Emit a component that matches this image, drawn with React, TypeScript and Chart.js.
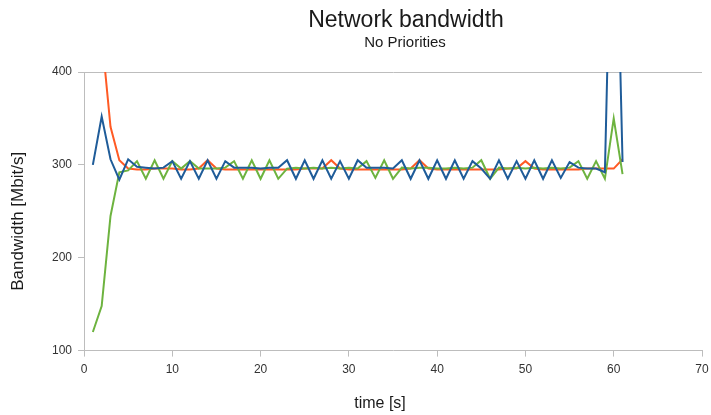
import { useEffect, useRef } from "react";
import { Chart, registerables } from "chart.js";

Chart.register(...registerables);

const chartTitle = "Network bandwidth";
const chartSubtitle = "No Priorities";
const xAxisTitle = "time [s]";
const yAxisTitle = "Bandwidth [Mbit/s]";

const timeSeconds = [
  1, 2, 3, 4, 5, 6, 7, 8, 9, 10,
  11, 12, 13, 14, 15, 16, 17, 18, 19, 20,
  21, 22, 23, 24, 25, 26, 27, 28, 29, 30,
  31, 32, 33, 34, 35, 36, 37, 38, 39, 40,
  41, 42, 43, 44, 45, 46, 47, 48, 49, 50,
  51, 52, 53, 54, 55, 56, 57, 58, 59, 60,
  61,
];

const flowBlue = [
  300, 352, 306, 284, 306, 298, 297, 296, 297, 304,
  285, 304, 285, 305, 285, 304, 297, 297, 297, 296,
  297, 297, 305, 285, 305, 285, 305, 285, 304, 285,
  305, 297, 297, 297, 296, 305, 285, 305, 285, 305,
  285, 305, 285, 304, 296, 285, 305, 285, 304, 285,
  305, 285, 305, 286, 303, 297, 296, 296, 292, 700,
  303,
];

const flowGreen = [
  120, 148, 245, 292, 294, 304, 285, 305, 285, 304,
  296, 304, 296, 296, 296, 297, 304, 285, 305, 285,
  305, 285, 296, 297, 296, 297, 296, 297, 296, 297,
  296, 304, 286, 305, 285, 297, 296, 297, 297, 296,
  296, 297, 296, 297, 305, 285, 297, 296, 297, 296,
  297, 296, 297, 296, 297, 304, 285, 304, 285, 350,
  290,
];

const flowOrange = [
  520, 440, 341, 305, 296, 295, 295, 296, 296, 296,
  295, 295, 296, 305, 296, 295, 295, 295, 295, 295,
  295, 295, 295, 295, 296, 296, 296, 305, 296, 295,
  295, 295, 295, 295, 295, 295, 296, 305, 296, 295,
  295, 295, 295, 295, 295, 295, 295, 296, 296, 304,
  296, 295, 295, 295, 295, 295, 296, 296, 296, 296,
  306,
];

const yTickValues = [100, 200, 300, 400];
const xTickValues = [0, 10, 20, 30, 40, 50, 60, 70];

const FONT = '"Liberation Sans", Arial, sans-serif';
const AXIS_GREY = "#bdbdbd";

const titlesPlugin = {
  id: "customTitles",
  afterDraw(chart: any) {
    const { ctx, chartArea } = chart;
    const cx = (chartArea.left + chartArea.right) / 2;
    const cy = (chartArea.top + chartArea.bottom) / 2;
    ctx.save();
    ctx.fillStyle = "#1a1a1a";
    ctx.textAlign = "center";
    ctx.textBaseline = "alphabetic";
    ctx.font = `23px ${FONT}`;
    ctx.fillText(chartTitle, cx + 13, 26.5);
    ctx.font = `15px ${FONT}`;
    ctx.fillText(chartSubtitle, cx + 12, 46.5);
    ctx.font = `16px ${FONT}`;
    ctx.textBaseline = "middle";
    ctx.fillText(xAxisTitle, cx - 13, 404);
    ctx.font = `17px ${FONT}`;
    ctx.translate(18, cy + 10);
    ctx.rotate(-Math.PI / 2);
    ctx.fillText(yAxisTitle, 0, 0);
    ctx.restore();
  },
};

function toPoints(values: number[]) {
  return timeSeconds.map((t, i) => ({ x: t, y: values[i] }));
}

export default function App() {
  const canvasRef = useRef<HTMLCanvasElement | null>(null);

  useEffect(() => {
    const canvas = canvasRef.current;
    if (!canvas) return;
    const chart = new Chart(canvas, {
      type: "line",
      data: {
        datasets: [
          {
            label: "Flow A",
            data: toPoints(flowBlue),
            borderColor: "#1f5c99",
            borderWidth: 2,
            pointRadius: 0,
            tension: 0,
          },
          {
            label: "Flow B",
            data: toPoints(flowGreen),
            borderColor: "#6db33f",
            borderWidth: 2,
            pointRadius: 0,
            tension: 0,
          },
          {
            label: "Flow C",
            data: toPoints(flowOrange),
            borderColor: "#ff5a24",
            borderWidth: 2,
            pointRadius: 0,
            tension: 0,
          },
        ],
      },
      options: {
        responsive: false,
        animation: false,
        devicePixelRatio: 1,
        layout: { padding: { left: 46, right: 9, top: 72, bottom: 32 } },
        plugins: {
          legend: { display: false },
          title: { display: false },
          tooltip: { enabled: false },
        },
        scales: {
          x: {
            type: "linear",
            min: 0,
            max: 70,
            afterBuildTicks: (axis: any) => {
              axis.ticks = xTickValues.map((v) => ({ value: v }));
            },
            afterFit: (axis: any) => {
              axis.paddingRight = 0;
            },
            ticks: {
              color: "#333",
              font: { family: FONT, size: 12 },
              padding: 6,
            },
            grid: {
              drawOnChartArea: false,
              tickLength: 6,
              tickColor: AXIS_GREY,
              color: AXIS_GREY,
            },
            border: { display: true, color: AXIS_GREY, width: 1 },
          },
          y: {
            type: "linear",
            min: 100,
            max: 400,
            afterBuildTicks: (axis: any) => {
              axis.ticks = yTickValues.map((v) => ({ value: v }));
            },
            ticks: {
              color: "#333",
              font: { family: FONT, size: 12 },
              padding: 6,
            },
            grid: {
              tickLength: 6,
              tickColor: AXIS_GREY,
              color: (ctx: any) =>
                ctx.tick && ctx.tick.value === 400 ? AXIS_GREY : "rgba(0,0,0,0)",
            },
            border: { display: true, color: AXIS_GREY, width: 1 },
          },
        },
      },
      plugins: [titlesPlugin],
    });
    return () => chart.destroy();
  }, []);

  return (
    <div style={{ position: "fixed", left: 0, top: 0, width: 711, height: 415, background: "#fff" }}>
      <canvas ref={canvasRef} width={711} height={415} />
    </div>
  );
}
